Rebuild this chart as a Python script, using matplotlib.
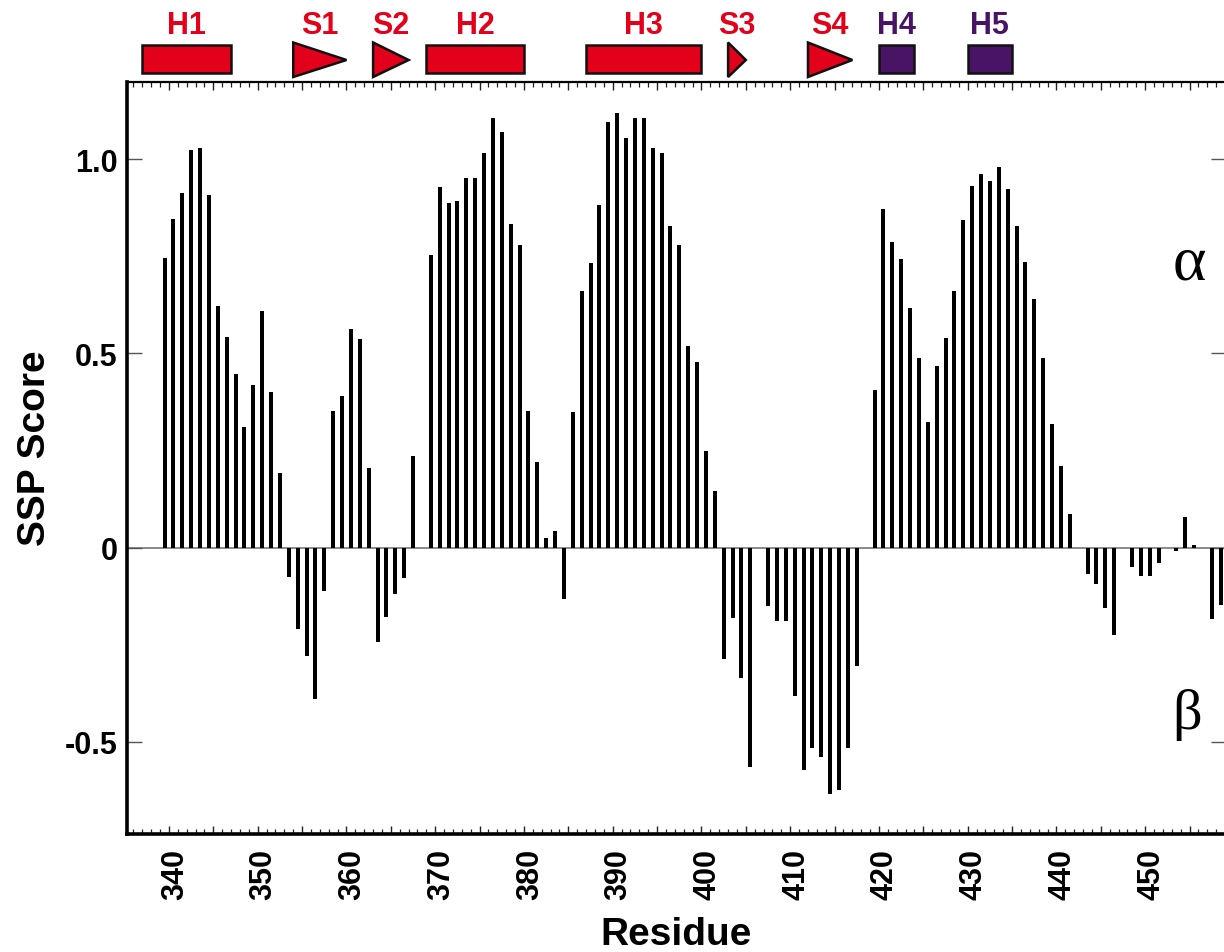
import numpy as np
import matplotlib
matplotlib.use("Agg")
import matplotlib.pyplot as plt
from matplotlib.patches import Rectangle, Polygon
from matplotlib.ticker import MultipleLocator, FuncFormatter
from matplotlib.transforms import ScaledTranslation

# ---------------- data ----------------
residues = list(range(340, 460))
ssp_scores = [
    0.745, 0.845, 0.912, 1.023, 1.030, 0.908, 0.622, 0.542, 0.446, 0.311,   # 340-349
    0.419, 0.610, 0.401, 0.192, -0.075, -0.209, -0.279, -0.389, -0.112, 0.353,  # 350-359
    0.390, 0.562, 0.537, 0.205, -0.244, -0.178, -0.118, -0.078, 0.235, np.nan,  # 360-369
    0.753, 0.928, 0.888, 0.893, 0.952, 0.952, 1.017, 1.107, 1.071, 0.833,   # 370-379
    0.778, 0.351, 0.220, 0.024, 0.042, -0.132, 0.349, 0.662, 0.733, 0.883,  # 380-389
    1.095, 1.118, 1.055, 1.107, 1.107, 1.030, 1.017, 0.829, 0.778, 0.519,   # 390-399
    0.478, 0.249, 0.147, -0.287, -0.181, -0.336, -0.564, np.nan, -0.151, -0.189,  # 400-409
    -0.189, -0.381, -0.573, -0.516, -0.540, -0.633, -0.625, -0.516, -0.304, np.nan,  # 410-419
    0.405, 0.872, 0.788, 0.744, 0.617, 0.487, 0.323, 0.467, 0.539, 0.662,   # 420-429
    0.843, 0.932, 0.961, 0.945, 0.981, 0.923, 0.829, 0.735, 0.641, 0.487,   # 430-439
    0.319, 0.210, 0.086, np.nan, -0.067, -0.094, -0.155, -0.224, np.nan, -0.049,  # 440-449
    -0.072, -0.072, -0.040, np.nan, -0.008, 0.078, 0.008, np.nan, -0.183, -0.147,  # 450-459
]

ss_names = ["H1", "S1", "S2", "H2", "H3", "S3", "S4", "H4", "H5"]
ss_types = ["helix", "strand", "strand", "helix", "helix", "strand", "strand", "helix", "helix"]
ss_start = [338, 355, 364, 370, 388, 404, 413, 421, 431]
ss_end = [347, 360, 367, 380, 400, 405, 417, 424, 435]
ss_colors = ["#E2001A"] * 7 + ["#4A1466"] * 2

ytick_values = [-0.5, 0, 0.5, 1.0]
ytick_labels = ["-0.5", "0", "0.5", "1.0"]

# ---------------- figure ----------------
W_PX, H_PX = 1224, 953
fig = plt.figure(figsize=(W_PX / 100, H_PX / 100), dpi=100)

left_px, right_px, top_px, bottom_px = 127, 1226, 82.5, 835
L = left_px / W_PX
Wd = (right_px - left_px) / W_PX
B = (H_PX - bottom_px) / H_PX
Ht = (bottom_px - top_px) / H_PX
ax = fig.add_axes([L, B, Wd, Ht])

shift = 0.5  # bars are drawn half a residue left of the tick of the same number
res = np.array(residues, dtype=float)
sc = np.array(ssp_scores, dtype=float)
mask = ~np.isnan(sc)
ax.axhline(0, color="#8a8a8a", lw=1.4, zorder=1)
ax.bar(res[mask] - shift, sc[mask], width=0.45, color="black", linewidth=0, zorder=2)

ax.set_xlim(335.27, 459.10)
ax.set_ylim(-0.737, 1.2)

# spines
for side, lw in [("left", 2.6), ("bottom", 2.6), ("top", 1.6), ("right", 1.6)]:
    ax.spines[side].set_linewidth(lw)
    ax.spines[side].set_color("black")

# x ticks
ax.xaxis.set_major_locator(MultipleLocator(5))
ax.xaxis.set_minor_locator(MultipleLocator(1))
ax.xaxis.set_major_formatter(FuncFormatter(lambda v, p: f"{int(round(v))}" if int(round(v)) % 10 == 0 else ""))
ax.tick_params(axis="x", which="major", direction="in", top=True, bottom=True,
               length=6, width=1.0, color="#222222", pad=10,
               labelsize=22, labelrotation=90)
ax.tick_params(axis="x", which="minor", direction="in", top=True, bottom=True,
               length=3.5, width=0.9, color="#222222")

# y ticks
ax.set_yticks(ytick_values)
ax.set_yticklabels(ytick_labels)
ax.tick_params(axis="y", which="major", direction="in", left=True, right=True,
               length=11, width=1.0, color="#555555", pad=7, labelsize=22)
offset = ScaledTranslation(6 / 100, 0, fig.dpi_scale_trans)
for lab in ax.get_xticklabels():
    lab.set_fontweight("bold")
    lab.set_family(["Liberation Sans", "DejaVu Sans"])
    lab.set_transform(lab.get_transform() + offset)
for lab in ax.get_yticklabels():
    lab.set_fontweight("bold")
    lab.set_family(["Liberation Sans", "DejaVu Sans"])

# axis labels
fig.text(676 / W_PX, 1 - 935 / H_PX, "Residue", ha="center", va="center",
         fontsize=28, fontweight="bold", family=["Liberation Sans", "DejaVu Sans"])
fig.text(35 / W_PX, 1 - 448 / H_PX, "SSP Score", ha="center", va="center", rotation=90,
         fontsize=28, fontweight="bold", family=["Liberation Sans", "DejaVu Sans"])

# alpha / beta markers
ax.text(0.967, 0.758, "α", transform=ax.transAxes, ha="center", va="center",
        fontsize=46, family=["Liberation Serif", "DejaVu Serif"])
ax.text(0.965, 0.16, "β", transform=ax.transAxes, ha="center", va="center",
        fontsize=42, family=["Liberation Serif", "DejaVu Serif"])

# ---------------- secondary-structure annotation ----------------
ax_ss = fig.add_axes([L, (H_PX - top_px) / H_PX, Wd, top_px / H_PX], sharex=ax)
ax_ss.set_ylim(top_px, 0)  # rows in pixels from the top of the figure
ax_ss.axis("off")
ax_ss.set_xlim(335.27, 459.10)

for name, kind, s, e, col in zip(ss_names, ss_types, ss_start, ss_end, ss_colors):
    x0 = s - 0.5 - shift
    x1 = e + 0.5 - shift
    if kind == "helix":
        patch = Rectangle((x0, 46), x1 - x0, 28, facecolor=col, edgecolor="#111111",
                          linewidth=1.8, clip_on=False)
    else:
        patch = Polygon([(x0, 43.5), (x0, 78), (x1, 61)], closed=True, facecolor=col,
                        edgecolor="#111111", linewidth=1.8, joinstyle="miter", clip_on=False)
    ax_ss.add_patch(patch)
    ax_ss.text((x0 + x1) / 2, 26, name, ha="center", va="center", color=col,
               fontsize=22, fontweight="bold", family=["Liberation Sans", "DejaVu Sans"],
               clip_on=False)

fig.savefig("out.png", dpi=100)
